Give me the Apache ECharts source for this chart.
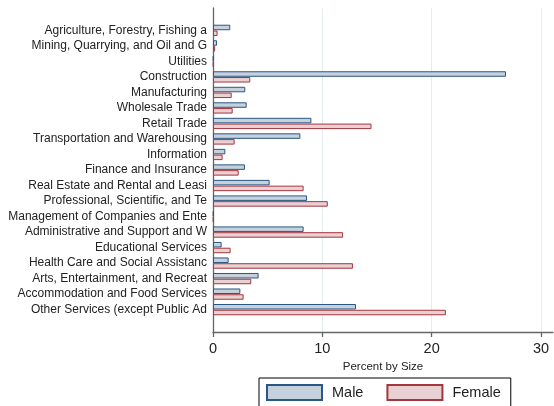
<!DOCTYPE html>
<html>
<head>
<meta charset="utf-8">
<script src="https://cdn.jsdelivr.net/npm/echarts@6/dist/echarts.min.js"></script>
<style>html,body{margin:0;padding:0;background:#fff}#c{width:554px;height:406px}</style>
</head>
<body>
<div id="c"></div>
<script>
const categories = [
  "Agriculture, Forestry, Fishing a",
  "Mining, Quarrying, and Oil and G",
  "Utilities",
  "Construction",
  "Manufacturing",
  "Wholesale Trade",
  "Retail Trade",
  "Transportation and Warehousing",
  "Information",
  "Finance and Insurance",
  "Real Estate and Rental and Leasi",
  "Professional, Scientific, and Te",
  "Management of Companies and Ente",
  "Administrative and Support and W",
  "Educational Services",
  "Health Care and Social Assistanc",
  "Arts, Entertainment, and Recreat",
  "Accommodation and Food Services",
  "Other Services (except Public Ad"
];
const male   = [1.58, 0.37, 0.05, 26.8, 2.95, 3.08, 9.0, 7.99, 1.13, 2.92, 5.18, 8.6, 0.05, 8.29, 0.79, 1.43, 4.17, 2.5, 13.08];
const female = [0.42, 0.2, 0.05, 3.41, 1.71, 1.8, 14.5, 1.98, 0.88, 2.35, 8.29, 10.5, 0.05, 11.9, 1.61, 12.8, 3.5, 2.8, 21.3];
const xTicks = [0, 10, 20, 30];
const xTitle = "Percent by Size";
const seriesNames = ["Male", "Female"];

const FONT = "Liberation Sans";
const XMAX = 31.1;
const chart = echarts.init(document.getElementById('c'), null, {renderer: 'canvas'});
chart.setOption({
  animation: false,
  textStyle: {fontFamily: FONT},
  grid: [
    {left: 213, right: 1, top: 8, bottom: 74},
    {left: 213, right: 1, top: 22.6, bottom: 88.6}
  ],
  xAxis: [
    {
      type: 'value', gridIndex: 0, min: 0, max: XMAX, interval: 10,
      name: xTitle, nameLocation: 'middle', nameGap: 24,
      nameTextStyle: {fontFamily: FONT, fontSize: 11.5, color: '#222'},
      axisLine: {show: true, lineStyle: {color: '#666', width: 1.3}},
      axisTick: {show: true, length: 5, customValues: xTicks, lineStyle: {color: '#666', width: 1.3}},
      axisLabel: {fontFamily: FONT, fontSize: 14.5, color: '#222', margin: 9, customValues: xTicks},
      splitLine: {show: false}
    },
    {
      type: 'value', gridIndex: 1, min: 0, max: XMAX, interval: 10,
      axisLine: {show: false}, axisTick: {show: false}, axisLabel: {show: false},
      splitLine: {show: false}
    },
    {
      type: 'value', gridIndex: 0, min: 0, max: XMAX, interval: 10,
      axisLine: {show: false},
      axisTick: {show: false, customValues: xTicks},
      axisLabel: {show: false, customValues: xTicks},
      splitLine: {show: true, lineStyle: {color: '#e3ecee', width: 1}}
    }
  ],
  yAxis: [
    {
      type: 'value', gridIndex: 0, min: 0, max: 1,
      axisLine: {show: true, lineStyle: {color: '#666', width: 1.3}},
      axisTick: {show: false}, axisLabel: {show: false}, splitLine: {show: false}
    },
    {
      type: 'category', gridIndex: 1, data: categories, inverse: true,
      axisLine: {show: false}, axisTick: {show: false},
      axisLabel: {fontFamily: FONT, fontSize: 12, color: '#222', margin: 6, interval: 0}
    }
  ],
  legend: {
    data: seriesNames,
    left: 259, top: 378,
    orient: 'horizontal',
    itemWidth: 55, itemHeight: 15, itemGap: 23,
    borderColor: '#000', borderWidth: 1,
    padding: [6, 10, 8, 7],
    textStyle: {fontFamily: FONT, fontSize: 14.5, color: '#222', padding: [0, 0, 0, 5]},
    icon: 'rect'
  },
  series: [
    {
      name: seriesNames[0], type: 'bar', xAxisIndex: 1, yAxisIndex: 1, data: male,
      barWidth: 5.5, barGap: '5%',
      itemStyle: {color: '#c5d1dc', borderColor: '#2a5783', borderWidth: 1}
    },
    {
      name: seriesNames[1], type: 'bar', xAxisIndex: 1, yAxisIndex: 1, data: female,
      barWidth: 5.5, barGap: '5%',
      itemStyle: {color: '#e8d0d3', borderColor: '#a3363e', borderWidth: 1}
    }
  ]
});
</script>
</body>
</html>
